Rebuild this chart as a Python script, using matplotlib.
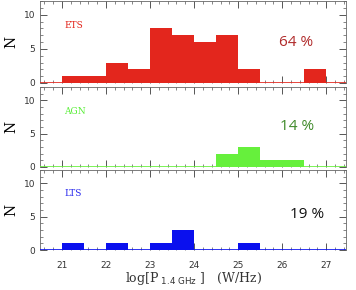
import matplotlib
matplotlib.use("Agg")
import matplotlib.pyplot as plt
from matplotlib.ticker import MultipleLocator

# Data: histogram bin left edges (log P_1.4GHz) and counts per class
bin_left = [21.0, 21.5, 22.0, 22.5, 23.0, 23.5, 24.0, 24.5, 25.0, 25.5, 26.0, 26.5]
bin_width = 0.5
ets_counts = [1, 1, 3, 2, 8, 7, 6, 7, 2, 0, 0, 2]
agn_counts = [0, 0, 0, 0, 0, 0, 0, 2, 3, 1, 1, 0]
lts_counts = [1, 0, 1, 0, 1, 3, 0, 0, 1, 0, 0, 0]
class_names = ["ETS", "AGN", "LTS"]
percent_labels = ["64 %", "14 %", "19 %"]
xticks = [21, 22, 23, 24, 25, 26, 27]

colors = ["#e3261d", "#66f03c", "#0a10ee"]
label_colors = ["#e3261d", "#55ee33", "#2a2aee"]
pct_colors = ["#b02a2a", "#3f8a2a", "#111111"]
pct_pos = [(25.92, 5.9), (25.94, 6.1), (26.18, 5.4)]

fig = plt.figure(figsize=(3.56, 2.90), dpi=100)
L, R = 40 / 356, 346 / 356
panels = [(1, 83), (87, 167), (170, 250)]
axes = []
for (t, b) in panels:
    ax = fig.add_axes([L, 1 - b / 290, R - L, (b - t) / 290])
    axes.append(ax)

for i, (ax, counts) in enumerate(zip(axes, [ets_counts, agn_counts, lts_counts])):
    ax.bar(bin_left, counts, width=bin_width, align="edge", color=colors[i],
           edgecolor="none", zorder=2)
    ax.axhline(0, color=colors[i], lw=1.2, zorder=3)
    ax.set_xlim(20.5, 27.45)
    ax.set_ylim(0, 12)
    ax.xaxis.set_major_locator(MultipleLocator(1))
    ax.xaxis.set_minor_locator(MultipleLocator(0.2))
    ax.yaxis.set_major_locator(MultipleLocator(5))
    ax.yaxis.set_minor_locator(MultipleLocator(1))
    ax.tick_params(which="both", direction="in", top=True, right=True,
                   color="#555555", labelsize=6.5, labelcolor="#333333")
    ax.tick_params(which="major", length=5, width=0.7)
    ax.tick_params(which="minor", length=2.5, width=0.5)
    for s in ax.spines.values():
        s.set_color("#666666")
        s.set_linewidth(0.6)
    ax.spines["bottom"].set_visible(False)
    ax.set_ylabel("N", family="DejaVu Serif", fontsize=10, labelpad=4)
    ax.text(21.05, 8.4, class_names[i], color=label_colors[i],
            family="DejaVu Serif", fontsize=6.5, va="center", ha="left")
    ax.text(pct_pos[i][0], pct_pos[i][1], percent_labels[i], color=pct_colors[i],
            fontsize=11, family="Open Sans", ha="left", va="center")
    if i < 2:
        ax.tick_params(labelbottom=False)
    else:
        ax.set_xticks(xticks)
        ax.set_xticklabels([str(x) for x in xticks])
        ax.tick_params(axis="x", pad=8)

axes[2].set_xlabel(r"log[P$_{\mathrm{\ 1.4\ GHz}}$ ]   (W/Hz)", family="DejaVu Serif",
                   fontsize=9, color="#333333", labelpad=0)

fig.savefig("out.png", dpi=100)
